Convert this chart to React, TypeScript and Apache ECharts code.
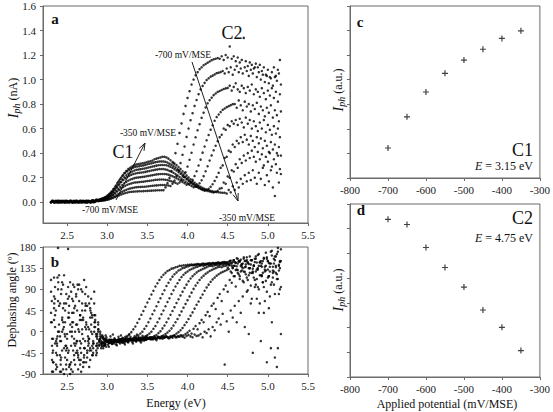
import React, { useEffect, useRef } from "react";
import * as echarts from "echarts";

// ---------- data ----------
// photon energies (eV) of the two interleaved measurement grids
const energyA = [
  2.3, 2.325, 2.35, 2.375, 2.4, 2.425, 2.45, 2.475, 2.5, 2.525, 2.55, 2.575, 2.6, 2.625, 2.65, 2.675,
  2.7, 2.725, 2.75, 2.775, 2.8, 2.825, 2.85, 2.875, 2.9, 2.925, 2.95, 2.975, 3.0, 3.025, 3.05, 3.075,
  3.1, 3.125, 3.15, 3.175, 3.2, 3.225, 3.25, 3.275, 3.3, 3.325, 3.35, 3.375, 3.4, 3.425, 3.45, 3.475,
  3.5, 3.525, 3.55, 3.575, 3.6, 3.625, 3.65, 3.675, 3.7, 3.725, 3.75, 3.775, 3.8, 3.825, 3.85, 3.875,
  3.9, 3.925, 3.95, 3.975, 4.0, 4.025, 4.05, 4.075, 4.1, 4.125, 4.15, 4.175, 4.2, 4.225, 4.25, 4.275,
  4.3, 4.325, 4.35, 4.375, 4.4, 4.425, 4.45, 4.475, 4.5, 4.525, 4.55, 4.575, 4.6, 4.625, 4.65, 4.675,
  4.7, 4.725, 4.75, 4.775, 4.8, 4.825, 4.85, 4.875, 4.9, 4.925, 4.95, 4.975, 5.0, 5.025, 5.05, 5.075,
  5.1, 5.125, 5.15,
];
const energyB = [
  2.3125, 2.3375, 2.3625, 2.3875, 2.4125, 2.4375, 2.4625, 2.4875, 2.5125, 2.5375, 2.5625, 2.5875, 2.6125, 2.6375, 2.6625, 2.6875,
  2.7125, 2.7375, 2.7625, 2.7875, 2.8125, 2.8375, 2.8625, 2.8875, 2.9125, 2.9375, 2.9625, 2.9875, 3.0125, 3.0375, 3.0625, 3.0875,
  3.1125, 3.1375, 3.1625, 3.1875, 3.2125, 3.2375, 3.2625, 3.2875, 3.3125, 3.3375, 3.3625, 3.3875, 3.4125, 3.4375, 3.4625, 3.4875,
  3.5125, 3.5375, 3.5625, 3.5875, 3.6125, 3.6375, 3.6625, 3.6875, 3.7125, 3.7375, 3.7625, 3.7875, 3.8125, 3.8375, 3.8625, 3.8875,
  3.9125, 3.9375, 3.9625, 3.9875, 4.0125, 4.0375, 4.0625, 4.0875, 4.1125, 4.1375, 4.1625, 4.1875, 4.2125, 4.2375, 4.2625, 4.2875,
  4.3125, 4.3375, 4.3625, 4.3875, 4.4125, 4.4375, 4.4625, 4.4875, 4.5125, 4.5375, 4.5625, 4.5875, 4.6125, 4.6375, 4.6625, 4.6875,
  4.7125, 4.7375, 4.7625, 4.7875, 4.8125, 4.8375, 4.8625, 4.8875, 4.9125, 4.9375, 4.9625, 4.9875, 5.0125, 5.0375, 5.0625, 5.0875,
  5.1125, 5.1375, 5.1625,
];

// photocurrent (nA), one list per applied potential
const iph700 = [
  0, .005, 0, .01, 0, 0, .005, 0, .01, 0, .005, 0, 0, .01, 0, .005, 0, 0, .01, .005, 0, .01, .005, .01,
  .01, .012, .014, .016, .019, .024, .029, .035, .042, .049, .056, .063, .069, .074, .078, .082, .084,
  .086, .087, .088, .089, .089, .09, .091, .092, .093, .094, .095, .096, .097, .097, .097,
  .098, .12, .155, .198, .254, .32, .4, .476, .565, .642, .72, .785, .85, .905, .96, 1.0, 1.035, 1.06,
  1.085, 1.1, 1.117, 1.127, 1.138, 1.147, 1.158, 1.165, 1.17, 1.175,
  1.17, 1.19, 1.16, 1.2, 1.18, 1.27, 1.17, 1.19, 1.15, 1.18, 1.14, 1.16, 1.34, 1.15, 1.11, 1.14, 1.12,
  1.09, 1.13, 1.1, 1.12, 1.07, 1.1, 1.04, 1.08, 1.02, 1.06, 1.1, 1.03, 1.08, 1.16,
];
const iph650 = [
  .005, 0, .01, 0, .005, .01, 0, 0, .005, .01, 0, .005, 0, 0, .01, 0, .005, .01, 0, 0, .01, .005, .01, .01,
  .011, .014, .016, .02, .024, .03, .038, .046, .056, .066, .076, .086, .094, .101, .107, .112, .116,
  .119, .122, .123, .124, .125, .126, .128, .13, .132, .134, .135, .137, .138, .14, .14,
  .14, .138, .136,
  .132, .15, .177, .214, .261, .319, .386, .454, .532, .6, .669, .726, .785, .833, .881, .92, .948, .973,
  .996, 1.01, 1.024, 1.032, 1.042, 1.052, 1.056, 1.061,
  1.07, 1.05, 1.09, 1.06, 1.1, 1.04, 1.08, 1.11, 1.06, 1.09, 1.05, 1.1, 1.07, 1.03, 1.08, 1.05, 1.1, 1.02,
  1.06, 1.0, 1.04, .98, 1.03, .97, 1.01, .95, 1.02, .99, 1.05, .96,
];
const iph600 = [
  0, .01, 0, .005, 0, .01, .005, 0, 0, .005, .01, 0, .01, 0, .005, 0, .01, 0, 0, .005, .01, 0, .005, .015,
  .014, .017, .02, .025, .031, .039, .049, .06, .073, .087, .1, .113, .124, .134, .142, .148, .153,
  .158, .161, .162, .164, .166, .167, .17, .172, .174, .177, .179, .182, .183, .185, .185,
  .185, .183, .18, .175, .17, .164, .158, .15,
  .16, .178, .207, .243, .29, .346, .403, .47, .529, .586, .636, .688, .73, .773, .806, .832, .852, .873,
  .886, .899, .907, .915, .923, .928, .932,
  .95, .91, .94, .97, .92, .9, .95, .93, .89, .94, .91, .96, .88, .92, .9, .86, .93, .89, .84, .91, .87,
  .93, .85, .9, .82, .88,
];
const iph550 = [
  .01, 0, .005, 0, .01, 0, 0, .01, .005, 0, 0, .01, .005, 0, .01, .005, 0, 0, .01, 0, .005, .01, .015, .01,
  .016, .02, .024, .03, .038, .048, .06, .074, .09, .108, .124, .14, .154, .166, .176, .184, .19,
  .196, .2, .202, .204, .206, .208, .211, .214, .217, .22, .223, .226, .228, .23, .23,
  .23, .228, .224, .218, .212, .204, .196, .186, .176, .164, .154, .142,
  .148, .161, .182, .213, .252, .299, .347, .404, .454, .505, .548, .591, .627, .664, .694, .715, .735,
  .753, .764, .775, .783, .791, .799,
  .8, .77, .83, .79, .75, .82, .78, .8, .74, .79, .76, .81, .72, .78, .75, .7, .77, .73, .79, .69, .75,
  .71, .66, .74,
];
const iph500 = [
  0, .005, .01, 0, 0, .005, .01, 0, .005, 0, .01, 0, 0, .005, 0, .01, .005, .01, 0, .005, 0, .01, .01, .015,
  .018, .023, .028, .035, .044, .056, .07, .086, .105, .126, .145, .164, .18, .194, .206, .216, .223,
  .23, .234, .237, .239, .241, .244, .247, .251, .254, .258, .261, .265, .267, .27, .27,
  .27, .267, .263, .255, .248, .239, .23, .218, .206, .192, .18, .166, .154, .143, .131, .122,
  .125, .135, .154, .179, .212, .252, .293, .34, .381, .423, .46, .497,
  .53, .55, .6, .59, .63, .62, .66, .64, .67,
  .63, .68, .65, .61, .69, .64, .67, .6, .66, .62, .58, .65, .6, .67, .57, .63, .59, .55, .62, .56, .6, .53,
];
const iph450 = [
  .005, 0, 0, .01, .005, 0, .01, .005, 0, .01, 0, .005, .01, 0, 0, .01, .005, 0, .01, .005, .01, 0, .015, .015,
  .02, .025, .031, .038, .049, .062, .078, .097, .118, .142, .163, .184, .203, .219, .232, .243, .25,
  .258, .264, .266, .269, .272, .274, .278, .282, .286, .29, .294, .298, .301, .303, .303,
  .303, .301, .296, .288, .28, .269, .258, .245, .232, .216, .203, .187, .174, .16, .147, .137, .126,
  .115, .107, .099, .094,
  .099, .109, .125, .146, .173, .205, .239,
  .28, .3, .36, .37, .42, .41, .47, .45, .5, .48, .53, .49, .55,
  .51, .47, .54, .5, .45, .53, .48, .52, .44, .5, .46, .41, .49, .43, .47, .4, .45, .38,
];
const iph400 = [
  0, .01, .005, 0, .01, 0, .005, .01, 0, 0, .005, .01, 0, .01, .005, 0, .01, .005, 0, .01, .005, .015, .01, .02,
  .021, .027, .033, .042, .053, .068, .085, .106, .129, .155, .178, .201, .222, .239, .253, .265, .274,
  .282, .288, .291, .294, .297, .3, .304, .309, .313, .317, .322, .326, .329, .332, .332,
  .332, .329, .323, .314, .306, .294, .282, .268, .253, .236, .222, .204, .19, .175, .161, .149, .137,
  .126, .117, .108, .103, .097, .091, .087, .082, .079,
  .084, .093,
  .11, .115, .16, .15, .21, .2, .26, .25, .31, .28, .35, .32, .38, .34, .4, .36, .42,
  .37, .33, .41, .35, .39, .3, .37, .33, .4, .29, .35, .31, .38, .27,
];
const iph350 = [
  .01, 0, .005, .01, 0, .005, 0, .01, .005, .01, 0, 0, .01, .005, .01, 0, .005, .01, .005, 0, .015, .01, .02, .015,
  .023, .029, .035, .044, .057, .072, .091, .113, .137, .165, .19, .215, .237, .255, .271, .283, .292,
  .302, .308, .311, .314, .317, .32, .325, .33, .334, .339, .35, .355, .36, .365, .37,
  .37, .365, .355, .342, .328, .314, .302, .286, .271, .252, .237, .218, .202, .187, .171, .159, .147,
  .134, .125, .116, .109, .103, .097, .092, .088, .085, .082, .08, .078, .077, .077,
  .07, .1, .08, .13, .1, .16, .12, .19, .15, .22, .17, .24,
  .18, .26, .2, .15, .24, .19, .28, .14, .22, .17, .26, .12, .05, .24, .16, .23,
];

// dephasing angle (deg), one list per applied potential
const phase700 = [
  85, -40, 10, -75, 55, -20, 100, -55, -5, 30, -80, 65, -30, 15, -60, 90, -15, 45, -45, 5, 70, -35, 25, -10,
  -18, -25, -15, -28,
  -20, -24, -19, -22, -18, -21, -17, -19,
  -14, -11, -9, -5, -1, 5, 11, 19, 27, 36, 44, 53, 62, 70, 79, 87, 96, 103, 110, 116, 121, 125, 129, 131,
  134, 135, 137, 138, 140,
  140, 141, 141, 142, 142, 143, 142, 143, 144, 143, 144, 145, 144, 145, 146, 145, 146, 146, 147, 146,
  147, 148, 147,
  148, 150, 145, 152, 147, 155, 149, 143, 158, 150, 146, 160, 152, 140, 155, 163, 148, 138, 157, 168,
  150, 145, 172, 155, 160, 178, 150,
];
const phase650 = [
  -60, 115, -20, 178, -85, 0, 60, -40, 95, -70, 20, -25, 75, -50, 35, -5, 110, -65, 10, 50, -30, 0, -50, 15,
  -10, -30, -22, -16,
  -23, -18, -21, -25, -19, -20, -17, -22, -18, -16, -19, -15, -17,
  -13, -10, -8, -4, 0, 6, 12, 20, 28, 37, 45, 54, 63, 71, 80, 88, 97, 104, 111, 117, 122, 126, 130, 132,
  135, 136, 138, 139, 141,
  141, 142, 142, 143, 142, 144, 143, 144, 145, 144, 146, 145, 146, 147, 146, 147, 148, 147,
  145, 151, 148, 140, 156, 149, 153, 135, 150, 158, 144, 152, 128, 155, 147, 165, 140, 150, 132, 158,
  146, 170, 138, 152, 165, 142, 175,
];
const phase600 = [
  20, -85, 70, -30, 120, -55, 5, 45, -15, -75, 85, -40, 55, -20, 0, -85, 30, 80, -55, -15, 40, -20, 10, -25,
  -28, -12, -24, -20,
  -21, -17, -23, -19, -20, -22, -16, -18, -21, -15, -19, -17, -16, -18, -14, -17, -15, -16,
  -13, -10, -7, -4, 0, 6, 12, 20, 28, 37, 45, 54, 63, 71, 80, 88, 96, 103, 110, 116, 121, 125, 128, 131,
  133, 135, 137, 138, 140,
  141, 140, 142, 143, 142, 143, 144, 143, 145, 144, 146, 145, 146,
  144, 149, 140, 152, 146, 131, 150, 143, 155, 138, 148, 125, 152, 141, 160, 135, 147, 118, 155, 140,
  150, 128, 162, 145, 137, 170, 148,
];
const phase550 = [
  -30, 50, -70, 90, -10, 25, -90, 60, -45, 105, 10, -60, -25, 90, -70, 45, -35, 20, 75, -60, -5, 35, -30, 0,
  -5, -22, -30, -18,
  -22, -19, -25, -18, -21, -17, -20, -23, -18, -16, -19, -15, -18, -17, -14, -16, -18, -15, -13, -16,
  -14, -15,
  -12, -9, -7, -3, 1, 7, 13, 20, 28, 36, 44, 52, 61, 69, 77, 85, 93, 100, 107, 113, 118, 122, 126, 129,
  131, 133, 135, 137, 139,
  140, 139, 141, 142, 141, 143, 142, 144, 143,
  141, 146, 135, 148, 139, 150, 128, 145, 137, 152, 120, 143, 134, 148, 112, 140, 150, 125, 138, 155,
  118, 145, 130, 160, 122, 140, 150,
];
const phase500 = [
  110, -15, 35, -50, 0, 80, -80, 20, -35, 55, -65, 100, 0, -40, 65, -25, -75, 10, -40, 60, 15, -45, 20, -15,
  -22, -35, -14, -25,
  -19, -24, -17, -21, -20, -18, -23, -16, -19, -21, -15, -18, -17, -14, -19, -16, -15, -17, -13, -16,
  -14, -15, -12, -16, -13, -14, -12,
  -10, -8, -5, -2, 2, 7, 13, 20, 27, 35, 43, 51, 59, 67, 75, 83, 91, 98, 104, 110, 115, 119, 123, 126,
  129, 131, 133, 135, 137,
  138, 137, 139, 140,
  136, 142, 125, 140, 131, 145, 118, 138, 128, 143, 110, 135, 125, 140, 100, 132, 120, 145, 95, 130,
  115, 138, 105, 128, 140, 112, 135,
];
const phase450 = [
  -85, 25, -45, 65, -20, 105, -35, -70, 176, 0, 70, -50, 15, -80, 35, 5, -50, 95, -20, -35, 30, 60, -40, 5,
  -15, -8, -26, -21,
  -20, -23, -18, -22, -19, -17, -21, -16, -20, -18, -15, -19, -17, -14, -16, -18, -13, -15, -17, -12,
  -14, -16, -13, -11, -15, -12, -14, -10, -13, -11, -12, -10,
  -9, -7, -4, -1, 3, 8, 14, 20, 27, 34, 41, 49, 57, 64, 72, 79, 87, 94, 100, 106, 111, 115, 119, 122,
  125, 127, 129, 131, 133,
  128, 136, 118, 132, 122, 140, 108, 127, 115, 135, 98, 125, 110, 132, 90, 120, 105, 128, 85, 118, 100,
  125, 80, 112, 130, 95,
];
const phase400 = [
  40, -65, 95, -25, 15, -85, 50, -10, -60, 75, -30, 20, -70, 45, 100, -45, 25, -20, 55, -75, 0, -25, 35, -5,
  -30, -20, -12, -27,
  -21, -18, -24, -20, -17, -22, -19, -16, -20, -18, -21, -15, -17, -19, -14, -16, -18, -13, -15, -17,
  -14, -12, -16, -13, -15, -11, -14, -12, -13, -10, -12, -14, -11, -9, -12, -10, -11, -8,
  -8, -5, -2, 2, -4, 6, 12, 5, 18, 25, 20, 35, 42, 33, 55, 60, 48, 72, 80, 65, 90, 98, 85, 110, 104, 118,
  96, 125, 112,
  130, 105, 122, 88, 135, 70, 115, 128, 95, 60, 120, 40, 108, 132, 75, 20, 100, 125, -35, 90,
];
const phase350 = [
  -15, 75, -80, 0, 60, -40, 120, -30, 30, -90, 40, -15, 80, -55, -35, 60, -65, 5, -30, 30, -50, 85, -10, 20,
  0, -26, -18, -32,
  -22, -19, -25, -17, -21, -20, -18, -23, -16, -19, -21, -17, -15, -18, -20, -14, -16, -19, -13, -17,
  -15, -12, -16, -14, -18, -11, -13, -15, -12, -10, -14, -11, -13, -9, -12, -10, -8, -11, -13, -9, -7,
  -10, -12, -6, -9,
  -8, -5, -12, 0, -3, 5, -10, 10, 3, 20, 28, 15, 38, -70, 22, 0, 45, 30, 55, 20, 65, 40, 75, 10, 85, -5,
  60, -45, 95,
  70, 40, -20, 105, 65, -65, 50, -35, 115, -55, -75, 80, -5,
];
// additional scattered phase readings in the noisy low-energy region
const phaseExtraE = [
  2.31, 2.33, 2.36, 2.38, 2.41, 2.43, 2.46, 2.48, 2.51, 2.53, 2.56, 2.58, 2.61, 2.63, 2.66, 2.68,
  2.71, 2.73, 2.76, 2.78, 2.81, 2.83, 2.86, 2.88, 2.91, 2.93,
  2.32, 2.34, 2.37, 2.39, 2.42, 2.44, 2.47, 2.49, 2.52, 2.54, 2.57, 2.59, 2.62, 2.64, 2.67, 2.69,
  2.72, 2.74, 2.77, 2.79, 2.82, 2.84, 2.87, 2.89, 2.92, 2.94,
  2.31, 2.35, 2.38, 2.42, 2.45, 2.49, 2.52, 2.56, 2.59, 2.63, 2.66, 2.7, 2.73, 2.77, 2.8, 2.84,
  2.87, 2.9, 2.95, 2.97,
  2.96, 2.99, 3.01, 3.04, 3.06, 3.09, 3.11, 3.14, 3.16, 3.19, 3.21, 3.24, 3.26, 3.29, 3.31, 3.34,
  3.36, 3.39, 3.41, 3.44, 3.46, 3.49, 2.98, 3.02, 3.07, 3.12, 3.17, 3.22, 3.27, 3.32, 3.37, 3.42,
];
const phaseExtraDeg = [
  20, -65, 45, -10, -50, 90, 10, -30, 70, -70, 0, 40, -45, 100, -20, 25,
  -55, 60, -10, -40, 35, -25, -5, -35, -15, -30,
  -45, 60, -15, 105, -70, 30, -5, 80, -40, 15, -85, 50, -20, 5, -60, 85,
  -35, 15, -15, 45, -50, 10, -30, 5, -25, -10,
  65, -25, 115, -60, 20, -80, 40, -10, 95, -45, 25, -65, 55, -25, -40, 20,
  -45, -20, -35, -15,
  -30, -12, -28, -10, -26, -14, -27, -11, -25, -13, -24, -12, -23, -11, -22, -10,
  -21, -12, -20, -9, -19, -10, -8, -32, -6, -29, -8, -27, -7, -25, -6, -23,
];

// panels c and d
const potentials = [-700, -650, -600, -550, -500, -450, -400, -350];
const c1Iph = [1.22, 2.49, 3.5, 4.26, 4.8, 5.24, 5.68, 5.99];
const c2Iph = [6.38, 6.17, 5.24, 4.43, 3.64, 2.71, 2.01, 1.07];

const energyTicks = [2.5, 3.0, 3.5, 4.0, 4.5, 5.0, 5.5];
const iphTicks = [0, 0.2, 0.4, 0.6, 0.8, 1.0, 1.2, 1.4, 1.6];

const iphSeries = [iph700, iph650, iph600, iph550, iph500, iph450, iph400, iph350];
const phaseSeries = [phase700, phase650, phase600, phase550, phase500, phase450, phase400, phase350];

const FONT = "Liberation Serif";
const AXIS_COLOR = "#6b6b6b";
const LABEL_COLOR = "#222";

export default function App() {
  const ref = useRef<HTMLDivElement>(null);

  useEffect(() => {
    document.body.style.margin = "0";
    const chart = echarts.init(ref.current!, null, { renderer: "svg" });

    const baseAxisLine = { show: true, onZero: false, lineStyle: { color: AXIS_COLOR, width: 1 } };
    const labelStyle = { fontFamily: FONT, fontSize: 11, color: LABEL_COLOR };

    const energyX = (g: number) => ({
      gridIndex: g,
      type: "value",
      min: 2.2,
      max: 5.5,
      axisLine: baseAxisLine,
      axisTick: { show: true, length: 3, customValues: energyTicks, lineStyle: { color: AXIS_COLOR } },
      axisLabel: {
        ...labelStyle,
        margin: 6,
        customValues: energyTicks,
        formatter: (v: number) => v.toFixed(1),
      },
      splitLine: { show: false },
    });

    const potX = (g: number) => ({
      gridIndex: g,
      type: "value",
      min: -800,
      max: -300,
      interval: 100,
      axisLine: baseAxisLine,
      axisTick: { show: true, length: 3, lineStyle: { color: AXIS_COLOR } },
      axisLabel: { ...labelStyle, margin: 6 },
      splitLine: { show: false },
    });

    const auY = (g: number) => ({
      gridIndex: g,
      type: "value",
      min: 0,
      max: 7,
      interval: 1,
      axisLine: baseAxisLine,
      axisTick: { show: true, length: 3, lineStyle: { color: AXIS_COLOR } },
      axisLabel: { show: false },
      splitLine: { show: false },
    });

    const dot = {
      type: "scatter",
      symbol: "circle",
      symbolSize: 2.5,
      itemStyle: { color: "#000" },
      silent: true,
    };

    const series: any[] = [];
    iphSeries.forEach((vals, k) => {
      const en = k % 2 === 0 ? energyA : energyB;
      series.push({ ...dot, xAxisIndex: 0, yAxisIndex: 0, data: en.map((e, i) => [e, vals[i]]) });
    });
    phaseSeries.forEach((vals, k) => {
      const en = k % 2 === 0 ? energyA : energyB;
      series.push({ ...dot, xAxisIndex: 1, yAxisIndex: 1, data: en.map((e, i) => [e, vals[i]]) });
    });
    series.push({
      ...dot,
      xAxisIndex: 1,
      yAxisIndex: 1,
      data: phaseExtraE.map((e, i) => [e, phaseExtraDeg[i]]),
    });
    const plus = "path://M4,0L6,0L6,4L10,4L10,6L6,6L6,10L4,10L4,6L0,6L0,4L4,4Z";
    series.push({
      type: "scatter",
      xAxisIndex: 2,
      yAxisIndex: 2,
      symbol: plus,
      symbolSize: 6,
      itemStyle: { color: "#111" },
      data: potentials.map((p, i) => [p, c1Iph[i]]),
    });
    series.push({
      type: "scatter",
      xAxisIndex: 3,
      yAxisIndex: 3,
      symbol: plus,
      symbolSize: 6,
      itemStyle: { color: "#111" },
      data: potentials.map((p, i) => [p, c2Iph[i]]),
    });

    const gridStyle = { show: true, borderColor: AXIS_COLOR, borderWidth: 1, backgroundColor: "transparent" };

    const txt = (x: number, y: number, text: string, extra: any = {}) => ({
      type: "text",
      x,
      y,
      silent: true,
      style: {
        text,
        fontFamily: FONT,
        fontSize: 12,
        fill: "#111",
        align: "center",
        verticalAlign: "middle",
        ...extra,
      },
    });

    const iphRich = {
      i: { fontFamily: FONT, fontStyle: "italic", fontSize: 14, fill: "#111" },
      s: { fontFamily: FONT, fontStyle: "italic", fontSize: 10, fill: "#111", padding: [7, 0, 0, 0] },
      n: { fontFamily: FONT, fontSize: 12, fill: "#111" },
    };
    const eRich = {
      e: { fontFamily: FONT, fontStyle: "italic", fontSize: 12, fill: "#111" },
      n: { fontFamily: FONT, fontSize: 12, fill: "#111" },
    };

    const line = (x1: number, y1: number, x2: number, y2: number) => ({
      type: "line",
      silent: true,
      shape: { x1, y1, x2, y2 },
      style: { stroke: "#222", lineWidth: 1 },
    });
    const head = (pts: number[][]) => ({
      type: "polyline",
      silent: true,
      shape: { points: pts },
      style: { stroke: "#222", lineWidth: 1, fill: null },
    });

    const option: any = {
      animation: false,
      backgroundColor: "#fff",
      textStyle: { fontFamily: FONT },
      grid: [
        { left: 43, top: 6, width: 265, height: 217, ...gridStyle },
        { left: 43, top: 247, width: 265, height: 127, ...gridStyle },
        { left: 350, top: 6, width: 193, height: 172, ...gridStyle },
        { left: 350, top: 204, width: 193, height: 173, ...gridStyle },
      ],
      xAxis: [energyX(0), energyX(1), potX(2), potX(3)],
      yAxis: [
        {
          gridIndex: 0,
          type: "value",
          min: -0.17,
          max: 1.6,
          axisLine: baseAxisLine,
          axisTick: { show: true, length: 3, customValues: iphTicks, lineStyle: { color: AXIS_COLOR } },
          axisLabel: {
            ...labelStyle,
            margin: 7,
            customValues: iphTicks,
            formatter: (v: number) => v.toFixed(1),
          },
          splitLine: { show: false },
        },
        {
          gridIndex: 1,
          type: "value",
          min: -90,
          max: 180,
          interval: 45,
          axisLine: baseAxisLine,
          axisTick: { show: true, length: 3, lineStyle: { color: AXIS_COLOR } },
          axisLabel: { ...labelStyle, margin: 7 },
          splitLine: { show: false },
        },
        auY(2),
        auY(3),
      ],
      series,
      graphic: [
        // axis titles
        { ...txt(13, 98, "{i|I}{s|ph}{n| (nA)}", { rich: iphRich }), rotation: Math.PI / 2 },
        { ...txt(12, 300, "Dephasing angle (º)", { fontSize: 12 }), rotation: Math.PI / 2 },
        { ...txt(338, 90, "{i|I}{s|ph}{n| (a.u.)}", { rich: iphRich }), rotation: Math.PI / 2 },
        { ...txt(338, 290, "{i|I}{s|ph}{n| (a.u.)}", { rich: iphRich }), rotation: Math.PI / 2 },
        txt(176, 403, "Energy (eV)"),
        txt(447, 404, "Applied potential (mV/MSE)"),
        // panel letters
        txt(55, 19, "a", { fontWeight: "bold", fontSize: 15 }),
        txt(55, 262, "b", { fontWeight: "bold", fontSize: 15 }),
        txt(360, 22, "c", { fontWeight: "bold", fontSize: 15 }),
        txt(361, 210, "d", { fontWeight: "bold", fontSize: 15 }),
        // panel a annotations
        txt(232, 33, "C2", { fontSize: 18 }),
        txt(123, 152, "C1", { fontSize: 18 }),
        txt(183, 55, "-700 mV/MSE", { fontSize: 9.5 }),
        txt(247, 218, "-350 mV/MSE", { fontSize: 9.5 }),
        txt(148, 133, "-350 mV/MSE", { fontSize: 9.5 }),
        txt(110, 210, "-700 mV/MSE", { fontSize: 9.5 }),
        line(192, 62, 238, 201),
        head([[238.2, 193], [238, 201], [233, 194.7]]),
        line(116, 200, 145, 143),
        head([[139.2, 148.5], [145, 143], [144, 150.9]]),
        // panel c / d annotations
        txt(533, 150, "C1", { fontSize: 18, align: "right" }),
        txt(533, 166, "{e|E}{n| = 3.15 eV}", { rich: eRich, align: "right" }),
        txt(533, 218, "C2", { fontSize: 18, align: "right" }),
        txt(533, 238, "{e|E}{n| = 4.75 eV}", { rich: eRich, align: "right" }),
      ],
    };

    chart.setOption(option);
    return () => chart.dispose();
  }, []);

  return (
    <div
      ref={ref}
      style={{ position: "fixed", left: 0, top: 0, width: 553, height: 412, background: "#fff" }}
    />
  );
}
